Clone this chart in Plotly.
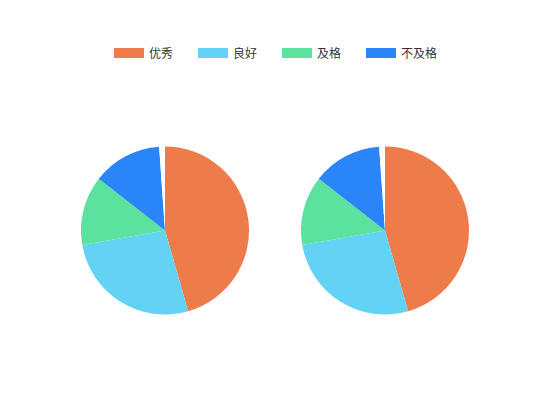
import plotly.graph_objects as go

labels = ["优秀", "良好", "及格", "不及格", "其他"]
values = [41, 24, 12, 12, 1]
colors = ["#EE7C4B", "#63D3F5", "#5CE29F", "#2A86F8", "#FFFFFF"]
legend_labels = ["优秀", "良好", "及格", "不及格"]

W, H = 550, 420
R = 84
# page body has an 8px margin, so positions are relative to the figure
centers = [(157, 222.5), (377, 222.5)]

fig = go.Figure()

for cx, cy in centers:
    fig.add_trace(go.Pie(
        labels=labels,
        values=values,
        marker=dict(colors=colors, line=dict(width=0)),
        textinfo="none",
        sort=False,
        direction="clockwise",
        rotation=0,
        domain=dict(x=[(cx - R) / W, (cx + R) / W],
                    y=[(H - cy - R) / H, (H - cy + R) / H]),
        showlegend=False,
    ))

# legend entries only
for lab, col in zip(legend_labels, colors):
    fig.add_trace(go.Scatter(x=[None], y=[None], name=lab, mode="lines",
                             line=dict(color=col, width=14)))

fig.update_layout(
    width=W,
    height=H,
    margin=dict(l=0, r=0, t=0, b=0),
    paper_bgcolor="white",
    plot_bgcolor="white",
    font=dict(family="Noto Sans CJK SC", size=12, color="#333333"),
    xaxis=dict(visible=False),
    yaxis=dict(visible=False),
    legend=dict(
        orientation="h",
        x=(277 - 8) / W,
        xanchor="center",
        y=1 - 45 / H,
        yanchor="middle",
        entrywidth=39,
        font=dict(size=12, color="#333333"),
    ),
)

fig.write_html("out.html")
